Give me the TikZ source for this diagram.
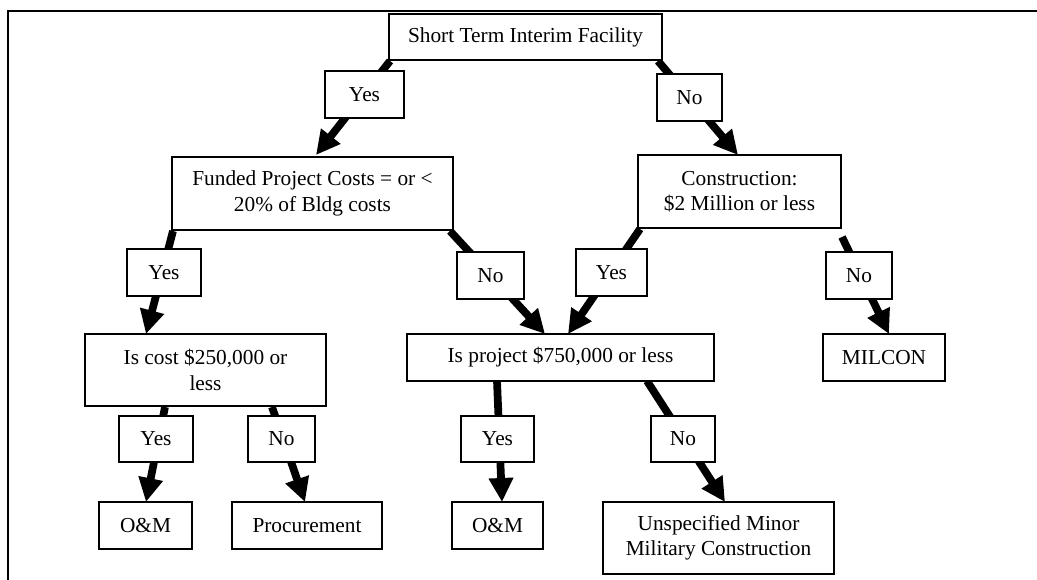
\documentclass[tikz,border=0pt]{standalone}
\usepackage{fontspec}
\setmainfont{Liberation Serif}
\usetikzlibrary{arrows.meta}
\begin{document}
\begin{tikzpicture}[x=0.75pt,y=-0.75pt,
  box/.style={draw,line width=1.5pt,fill=white,inner sep=0pt,align=center,
    font=\fontsize{16}{19}\selectfont},
  arr/.style={line width=5.8pt,-{Triangle[length=18pt,width=17.5pt]}},
  frameline/.style={line width=1.5pt}]
\useasboundingbox (0,0) rectangle (1037,580);
\draw[frameline] (8,580) -- (8,11) -- (1037,11);
% boxes (position, width, height)
\newcommand{\bx}[6]{\node[box,minimum width=#4*0.75pt,minimum height=#5*0.75pt] (#1) at (#2,#3) {#6};}
% arrow end points
\coordinate (s1) at (390,61);  \coordinate (t1) at (316,155);
\coordinate (s2) at (658,61);  \coordinate (t2) at (738,155);
\coordinate (s3) at (173,231); \coordinate (t3) at (146,334);
\coordinate (s4) at (450,231); \coordinate (t4) at (545,334);
\coordinate (s5) at (640,229); \coordinate (t5) at (568,334);
\coordinate (s6) at (842,237); \coordinate (t6) at (889,334);
\coordinate (s7) at (165,407); \coordinate (t7) at (146,502);
\coordinate (s8) at (272,407); \coordinate (t8) at (305,502);
\coordinate (s9) at (497,381); \coordinate (t9) at (502,502);
\coordinate (s10) at (647,381); \coordinate (t10) at (725,502);
\foreach \i in {1,...,10} {\draw[arr] (s\i) -- (t\i);}
\bx{top}{525.5}{37}{273}{46}{\raisebox{-1.5pt}{Short Term Interim Facility}}
\bx{fund}{312.5}{193.5}{281}{73}{Funded Project Costs = or <\\20\% of Bldg costs}
\bx{cons}{739.5}{191.5}{203}{73}{Construction:\\\$2 Million or less}
\bx{iscost}{205.5}{370}{241}{72}{Is cost \$250,000 or\\less}
\bx{isproj}{560.5}{357.5}{307}{47}{Is project \$750,000 or less}
\bx{milcon}{884}{357.5}{122}{47}{MILCON}
\bx{om1}{145.5}{525.5}{93}{47}{O\&M}
\bx{proc}{307}{525.5}{150}{47}{Procurement}
\bx{om2}{497.5}{525.5}{91}{47}{O\&M}
\bx{unsp}{718.5}{538}{231}{72}{Unspecified Minor\\Military Construction}
% decision labels
\bx{yes1}{364.5}{94.5}{79}{47}{Yes}
\bx{no1}{689.5}{97.5}{65}{47}{No}
\bx{yes2}{164}{272.5}{74}{47}{Yes}
\bx{no2}{490.5}{275.5}{67}{47}{No}
\bx{yes3}{611.5}{272.5}{71}{47}{Yes}
\bx{no3}{859}{275.5}{66}{47}{No}
\bx{yes4}{156}{439}{74}{46}{Yes}
\bx{no4}{281.5}{439}{67}{46}{No}
\bx{yes5}{497.5}{439}{73}{46}{Yes}
\bx{no5}{683}{439}{64}{46}{No}
\end{tikzpicture}
\end{document}
